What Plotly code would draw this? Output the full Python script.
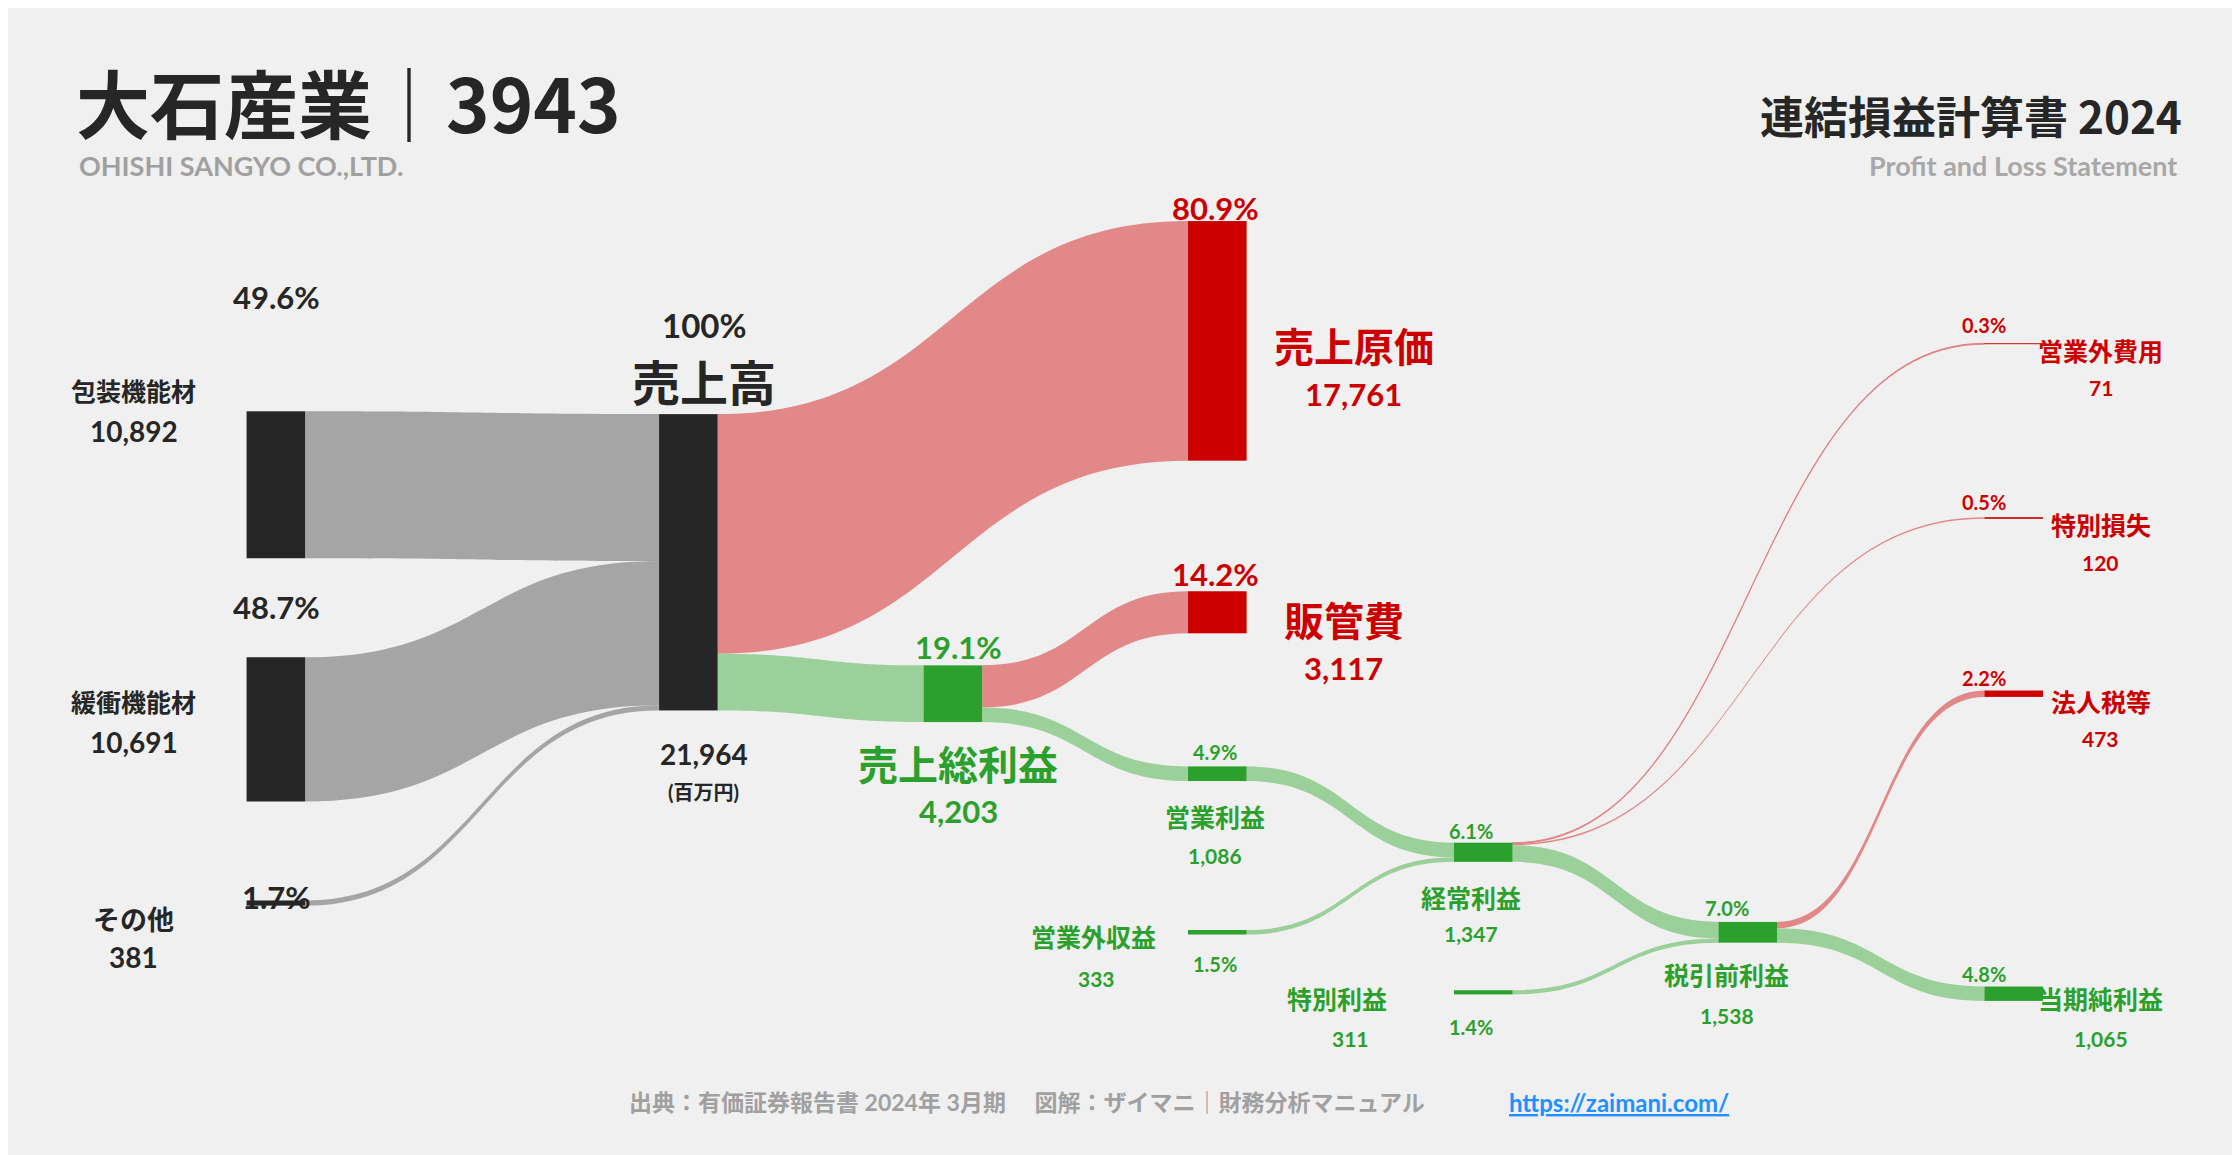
import plotly.graph_objects as go

# ---- data (百万円) ----
node_names = ['包装機能材', '緩衝機能材', 'その他', '売上高', '売上原価', '売上総利益', '販管費',
              '営業利益', '営業外収益', '経常利益', '営業外費用', '特別損失', '特別利益',
              '税引前利益', '法人税等', '当期純利益', '_a', '_b']
link_src = ['包装機能材', '緩衝機能材', 'その他', '売上高', '売上高', '売上総利益', '売上総利益',
            '営業利益', '営業外収益', '経常利益', '経常利益', '経常利益', '特別利益',
            '税引前利益', '税引前利益', '_a', '_a', '_b']
link_dst = ['売上高', '売上高', '売上高', '売上原価', '売上総利益', '販管費', '営業利益',
            '経常利益', '経常利益', '営業外費用', '特別損失', '税引前利益', '税引前利益',
            '法人税等', '当期純利益', '営業外収益', '_b', '特別利益']
link_val = [10892, 10691, 381, 17761, 4203, 3117, 1086, 1086, 333, 71, 120, 1228, 311, 473, 1065,
            0.01, 0.01, 0.01]

RED, GREEN, DARK = '#cc0000', '#2ca02c', '#262626'
node_col = {'包装機能材': DARK, '緩衝機能材': DARK, 'その他': DARK, '売上高': DARK,
            '売上原価': RED, '販管費': RED, '営業外費用': RED, '特別損失': RED, '法人税等': RED,
            '_a': 'rgba(0,0,0,0)', '_b': 'rgba(0,0,0,0)'}
PINK, GRAY, LGREEN = 'rgba(224,130,130,0.95)', 'rgba(160,160,160,0.95)', 'rgba(150,205,150,0.95)'


def lcol(s, t):
    if s.startswith('_'):
        return 'rgba(0,0,0,0)'
    if node_col.get(t) == RED:
        return PINK
    if s in ('包装機能材', '緩衝機能材', 'その他'):
        return GRAY
    return LGREEN


# node placement in reference display units (left edge, centre y)
node_pos = {'包装機能材': (167, 270), '緩衝機能材': (167, 486), 'その他': (167, 640),
            '売上高': (466, 393), '売上原価': (824, 238), '売上総利益': (645, 485),
            '販管費': (824, 428), '営業利益': (824, 541), '営業外収益': (824, 652),
            '経常利益': (1004, 596), '営業外費用': (1363, 240), '特別損失': (1363, 362),
            '特別利益': (1004, 694), '税引前利益': (1183, 652), '法人税等': (1363, 485),
            '当期純利益': (1363, 695), '_a': (167, 160), '_b': (466, 160)}

S = 2240 / 1568
L, R, T, B = 167 * S, 1404 * S, 150 * S, 710 * S
THICK = 41 * S
idx = {n: i for i, n in enumerate(node_names)}

nx = [(node_pos[n][0] * S - L) / (R - L - THICK) for n in node_names]
ny = [((node_pos[n][1] - 5) * S - T) / (B - T) for n in node_names]

fig = go.Figure(go.Sankey(
    arrangement='fixed',
    domain=dict(x=[L / 2240, R / 2240], y=[1 - B / 1155, 1 - T / 1155]),
    node=dict(label=['' for _ in node_names], x=nx, y=ny, pad=99, thickness=THICK,
              color=[node_col.get(n, GREEN) for n in node_names],
              line=dict(width=0)),
    link=dict(source=[idx[s] for s in link_src], target=[idx[t] for t in link_dst],
              value=link_val, color=[lcol(s, t) for s, t in zip(link_src, link_dst)]),
    hoverinfo='skip',
))

FONT = 'Lato, Noto Sans CJK JP'
anns = []


def A(x, y, text, size, color=DARK, xa='center', fam=FONT):
    anns.append(dict(x=x / 1568, y=1 - y / (1155 / S), xref='paper', yref='paper', text=text,
                     showarrow=False, xanchor=xa, yanchor='middle',
                     font=dict(size=size, color=color, family=fam)))


A(46, 65, '<b>大石産業｜3943</b>', 74, DARK, 'left', 'Noto Sans CJK JP')
A(48, 110, '<b>OHISHI SANGYO CO.,LTD.</b>', 27, '#a0a0a0', 'left')
A(1523, 75, '<b>連結損益計算書 2024</b>', 44, DARK, 'right', 'Noto Sans CJK JP')
A(1520, 110, '<b>Profit and Loss Statement</b>', 27, '#a8a8a8', 'right')
A(713, 766, '<b>出典：有価証券報告書 2024年 3月期　 図解：ザイマニ｜財務分析マニュアル</b>', 23, '#a0a0a0')
A(1128, 766, '<b><u>https://zaimani.com/</u></b>', 24, '#1e90ff')

A(188, 202, '<b>49.6%</b>', 31); A(88, 268, '<b>包装機能材</b>', 25); A(88, 296, '<b>10,892</b>', 28)
A(188, 419, '<b>48.7%</b>', 31); A(88, 486, '<b>緩衝機能材</b>', 25); A(88, 514, '<b>10,691</b>', 28)
A(188, 622, '<b>1.7%</b>', 31); A(88, 638, '<b>その他</b>', 27); A(88, 664, '<b>381</b>', 28)
A(487, 222, '<b>100%</b>', 33); A(487, 262, '<b>売上高</b>', 48)
A(487, 522, '<b>21,964</b>', 28); A(487, 549, '<b>(百万円)</b>', 20)
A(845, 140, '<b>80.9%</b>', 31, RED); A(942, 237, '<b>売上原価</b>', 40, RED); A(942, 270, '<b>17,761</b>', 31, RED)
A(845, 396, '<b>14.2%</b>', 31, RED); A(935, 429, '<b>販管費</b>', 40, RED); A(935, 462, '<b>3,117</b>', 31, RED)
A(665, 447, '<b>19.1%</b>', 31, GREEN); A(665, 530, '<b>売上総利益</b>', 40, GREEN); A(665, 562, '<b>4,203</b>', 31, GREEN)
A(845, 521, '<b>4.9%</b>', 20, GREEN); A(845, 566, '<b>営業利益</b>', 25, GREEN); A(845, 593, '<b>1,086</b>', 21, GREEN)
A(760, 650, '<b>営業外収益</b>', 25, GREEN); A(762, 679, '<b>333</b>', 21, GREEN); A(845, 669, '<b>1.5%</b>', 20, GREEN)
A(1024, 576, '<b>6.1%</b>', 20, GREEN); A(1024, 623, '<b>経常利益</b>', 25, GREEN); A(1024, 648, '<b>1,347</b>', 21, GREEN)
A(930, 694, '<b>特別利益</b>', 25, GREEN); A(940, 721, '<b>311</b>', 21, GREEN); A(1024, 713, '<b>1.4%</b>', 20, GREEN)
A(1203, 630, '<b>7.0%</b>', 20, GREEN); A(1203, 677, '<b>税引前利益</b>', 25, GREEN); A(1203, 705, '<b>1,538</b>', 21, GREEN)
A(1383, 222, '<b>0.3%</b>', 20, RED); A(1465, 240, '<b>営業外費用</b>', 25, RED); A(1465, 266, '<b>71</b>', 21, RED)
A(1383, 346, '<b>0.5%</b>', 20, RED); A(1465, 362, '<b>特別損失</b>', 25, RED); A(1465, 388, '<b>120</b>', 21, RED)
A(1383, 469, '<b>2.2%</b>', 20, RED); A(1465, 486, '<b>法人税等</b>', 25, RED); A(1465, 511, '<b>473</b>', 21, RED)
A(1383, 676, '<b>4.8%</b>', 20, GREEN); A(1465, 694, '<b>当期純利益</b>', 25, GREEN); A(1465, 721, '<b>1,065</b>', 21, GREEN)

fig.update_layout(width=2240, height=1155, margin=dict(l=0, r=0, t=0, b=0),
                  paper_bgcolor='#f0f0f0', plot_bgcolor='#f0f0f0',
                  font=dict(family=FONT), annotations=anns)
fig.write_html('out.html')
